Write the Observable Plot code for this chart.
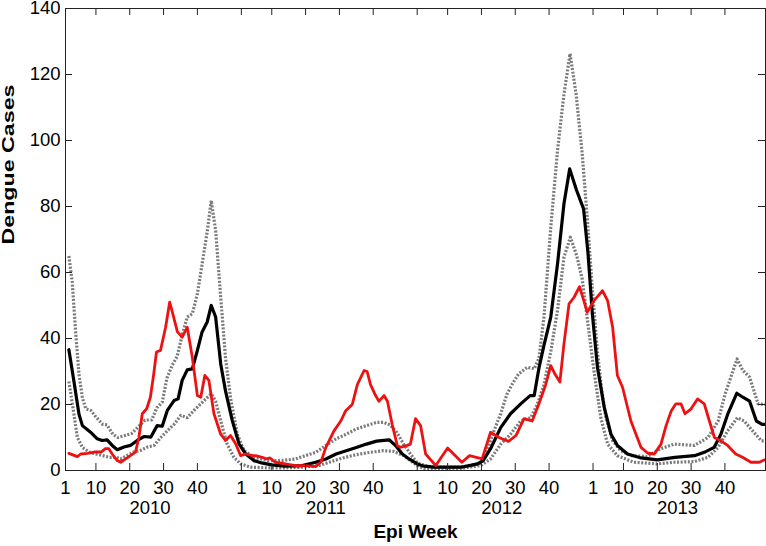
<!DOCTYPE html>
<html>
<head>
<meta charset="utf-8">
<script src="https://cdn.jsdelivr.net/npm/d3@7"></script>
<script src="https://cdn.jsdelivr.net/npm/@observablehq/plot@0.6"></script>
<style>
  html, body { margin: 0; padding: 0; background: #fff; }
</style>
</head>
<body>
<div id="chart"></div>
<script>
// x = week index counted from Epi Week 1 of 2010 (52 weeks per year)
const years = ["2010", "2011", "2012", "2013"];
const weekTickLabels = [1, 10, 20, 30, 40];
const yTicks = [0, 20, 40, 60, 80, 100, 120, 140];

// Observed dengue cases (red)
const observed = [[1,5.2],[3.5,4.2],[4.5,5],[6.5,5.2],[8.5,5.6],[10.5,5.6],[11.8,6.6],[12.8,6.6],[13.8,5],[15.3,3],[16.3,2.5],[17.8,3.5],[19.2,4.5],[20.7,5.6],[21.7,10],[22.7,17.2],[24,18.7],[25.1,22.2],[26.1,29.3],[26.9,35.9],[28.1,36.4],[29.6,43.4],[30.8,51],[31.6,48],[33.1,42],[34.5,40.4],[36,43.4],[37.5,34.3],[39,22.7],[40,22.2],[41.2,28.8],[42.4,27.3],[43.9,17.2],[45.9,11],[47.3,9.1],[48.8,10.6],[50.3,8.1],[51.8,4.5],[53.3,5],[55.2,4.5],[56.2,4.5],[58.2,4],[59.5,3.5],[60.5,3.8],[62,2.5],[65,2],[68,1.5],[71,1.5],[74,1.2],[75.5,2.5],[77,7],[79.4,12],[81.4,15],[82.8,18],[84.8,20],[86.3,26],[88.3,30.3],[89.2,30],[90.2,26],[91.7,22.7],[92.7,21],[94.2,22.7],[95.2,21],[96.6,14],[98.1,7.6],[99,7],[101,7.6],[102,8],[103.5,15.7],[105,13.6],[106.5,5],[109.5,1.5],[113,6.8],[117.2,2.5],[119.5,4.5],[121.5,4],[123.2,3.5],[125.7,11.6],[128.2,10],[131,8.8],[133.2,10.6],[135.6,15.7],[138,15],[140,20.2],[142,26],[143.5,31.8],[144.7,29.3],[146.2,26.8],[147.4,38.4],[148.9,50.5],[150.4,52.5],[152,55.7],[154.3,48],[156.3,51.5],[158.8,54.5],[160.3,51.5],[161.8,43.4],[163.2,28.8],[164.7,25.3],[167.2,15],[170.2,7],[172.1,5.3],[174.1,5],[176.1,8],[177.6,13.6],[179.1,18],[180.5,20.2],[182,20.2],[183.2,17.2],[185,18.7],[186.9,21.7],[188.9,20.2],[190.4,15],[191.9,10],[193.8,9],[195.8,7.6],[198.2,5],[200.2,4],[202.7,2.5],[205.1,2.5],[206.6,3.2]];

// Model median (black)
const median = [[1,36.6],[2.5,27],[4,17],[5,13.6],[7.4,11.6],[9.4,9.6],[10.8,9.1],[12.3,9.3],[13.8,7.6],[15.3,6.3],[17.3,7.1],[19.2,7.6],[21.2,9.1],[23.2,10.3],[25.2,10.1],[27.1,13.6],[28.6,13.4],[30.1,18.2],[32.1,21.2],[33.3,21.7],[34.5,27.3],[36,30.5],[37.5,30.8],[39,36.4],[40.4,42],[41.9,45],[43.1,50],[44.4,46.5],[45.9,32.3],[47.3,24.2],[49.3,15.2],[51.3,8.1],[53.3,5],[55.7,3],[58,2.3],[61,1.7],[65,1.3],[70,1.5],[74,2.5],[77,3.5],[80,5],[83,6],[86,7],[89,8],[92,8.9],[95.7,9.3],[97.6,7.6],[99.6,5],[101.6,3.5],[104,2],[106,1.3],[109,1],[117,1],[121.8,2],[123.5,3],[125.7,6.6],[128.7,13],[131.6,17.2],[134.6,20.2],[137.4,22.7],[138.6,22.7],[140,31],[141.5,38],[143.5,46.5],[145.5,62.6],[147.4,80.8],[149.1,91.4],[151.1,85],[153.2,79.3],[154.5,66],[155.8,47.5],[157.3,31.3],[159.3,19.2],[161.3,11],[163.2,7.6],[166.2,5],[170.2,3.8],[175,3.2],[180.2,4],[186,4.5],[188.9,5.5],[191.8,7],[193.8,11],[195.8,17],[198.5,23.4],[200.3,22.2],[202.3,21],[204.3,15],[206,14],[207,14]];

// Upper bound (gray dotted)
const upperBound = [[1,65],[2,57],[3,42],[4,29],[5,22],[6,18.7],[7.5,18.2],[9,16.2],[11,14],[12.3,13.8],[14,11],[15.5,10],[17.5,10.6],[19.5,11.2],[21.5,13.2],[23.5,15.3],[25.5,15.3],[27,19],[28.6,20.7],[30,28],[31.6,32],[33,34.5],[34.5,41],[36,46.5],[37.5,47.5],[39,53.5],[40.4,62.6],[42,73],[43.1,81.8],[44.4,72.7],[45.9,52.5],[47.3,34.3],[48.8,22],[50.8,11],[52.8,6],[55.7,4],[60,3],[64,3],[68,3.5],[70,4.2],[74,5.5],[77,7.6],[80,9.6],[83,11],[86,12.6],[89,13.6],[92,14.6],[94,14.6],[96,13.8],[98,11.5],[100,8],[102,5],[104,2.3],[107,1.3],[110,1],[116,1],[120,1.5],[123,2.3],[124.7,6],[126.7,12],[128.7,17.2],[130.5,23],[132,26],[134,29.3],[136.6,31.3],[138.6,30.8],[140,34],[141.5,46.5],[143.5,73.7],[145.5,97],[147.4,114],[149.2,126.3],[151,114],[152.8,96],[154.4,75],[155.8,55],[157.3,36],[158.5,25],[159.8,16],[161.8,9],[164.2,6],[167.3,4.5],[172,4.2],[176,6.6],[180,8],[186,7.6],[190,10],[193,15],[195,23],[197,29],[198.6,33.8],[200.3,30.3],[202.3,28.3],[204.8,20.2],[207,20]];

// Lower bound (gray dotted)
const lowerBound = [[1,27],[2.5,17],[3.5,10],[5,7],[7,5.6],[9,5],[11,4.5],[13,4],[15,4],[16.3,3.5],[18.2,4.5],[20.2,5.6],[22.2,6.1],[24.2,7.1],[26.2,7.6],[28.2,10],[30.1,12],[32.1,14],[34.1,16.7],[36,16],[38,18.2],[40,20.2],[42,22.2],[43.1,23.2],[44.4,21],[45.9,15],[47.8,8],[49.8,4],[51.8,2],[54.7,1],[60,0.8],[65,0.8],[70,1],[75,1.5],[78,2.5],[82,3.8],[86,4.8],[90,5.5],[94,6],[97,5.8],[100,4.5],[102,3],[104,1.5],[106,0.5],[116,0.5],[122.8,1.5],[125.7,3.5],[128.7,8],[131.6,11],[134.6,15],[137.6,16],[139.5,20],[141.5,26],[143.5,36],[145.5,48.5],[147.4,64.6],[149.3,70.7],[151.2,65],[152.8,58],[154.8,42],[156.3,30],[158.3,16],[160.3,8],[163.2,4.5],[168,2.5],[175,2],[180,2.5],[186,2.7],[190,4],[193,7],[195.8,12],[198.7,16],[200.7,15],[203.2,12],[205.8,9],[207,9]];

const weeksPerYear = 52;
const weekTicks = years.flatMap((y, i) => weekTickLabels.map(w => i * weeksPerYear + w - 1));
const yearCenters = years.map((y, i) => i * weeksPerYear + 25);

const W = 766, H = 546;
const mL = 65, mR = 1, mT = 8, mB = 76;
const frameW = W - mL - mR, frameH = H - mT - mB;
const tick = 7;

const grayStyle = {stroke: "#7a7a7a", strokeWidth: 3.2, strokeDasharray: "2,1.6", strokeLinecap: "butt", strokeLinejoin: "round"};

const chart = Plot.plot({
  width: W,
  height: H,
  marginLeft: mL,
  marginRight: mR,
  marginTop: mT,
  marginBottom: mB,
  style: {fontFamily: "'Liberation Sans', Arial, Helvetica, sans-serif", fontSize: "18.5px", color: "#000", background: "#fff", overflow: "visible"},
  x: {domain: [0, 207]},
  y: {domain: [0, 140]},
  marks: [
    Plot.line(lowerBound, {x: d => d[0], y: d => d[1], ...grayStyle}),
    Plot.line(upperBound, {x: d => d[0], y: d => d[1], ...grayStyle}),
    Plot.line(median, {x: d => d[0], y: d => d[1], stroke: "#000", strokeWidth: 3.2, strokeLinejoin: "round"}),
    Plot.line(observed, {x: d => d[0], y: d => d[1], stroke: "#ee1111", strokeWidth: 2.8, strokeLinejoin: "round"}),
    Plot.frame({stroke: "#222", strokeWidth: 1}),
    // inward ticks on all four sides
    Plot.tickX(weekTicks, {x: d => d, insetTop: frameH - tick, stroke: "#222"}),
    Plot.tickX(weekTicks, {x: d => d, insetBottom: frameH - tick, stroke: "#222"}),
    Plot.tickY(yTicks, {y: d => d, insetRight: frameW - tick, stroke: "#222"}),
    Plot.tickY(yTicks, {y: d => d, insetLeft: frameW - tick, stroke: "#222"}),
    Plot.axisX(weekTicks, {tickFormat: t => String((t % weeksPerYear) + 1), tickSize: 0, tickPadding: 10, label: null}),
    Plot.axisX(yearCenters, {tickFormat: t => years[Math.round((t - 25) / weeksPerYear)], tickSize: 0, tickPadding: 30, label: null}),
    Plot.axisY(yTicks, {tickFormat: d => String(d), tickSize: 0, tickPadding: 5, label: null}),
    Plot.text(["Epi Week"], {text: d => d, frameAnchor: "bottom", dy: 61, lineAnchor: "middle", fontWeight: "bold", fontSize: 19}),
    Plot.text(["Dengue Cases"], {text: d => d, frameAnchor: "left", dx: -57, dy: 5, rotate: -90, lineAnchor: "middle", fontWeight: "bold", fontSize: 17})
  ]
});

document.getElementById("chart").appendChild(chart);
// tick label size as in the reference
d3.select(chart).selectAll("text")
  .filter(function() { return this.textContent !== "Epi Week" && this.textContent !== "Dengue Cases"; })
  .style("font-size", "18.5px");
// stretch the rotated y label along its length like the reference
d3.select(chart).selectAll("text").filter(function() { return this.textContent === "Dengue Cases"; })
  .attr("textLength", 160).attr("lengthAdjust", "spacingAndGlyphs");
</script>
</body>
</html>
